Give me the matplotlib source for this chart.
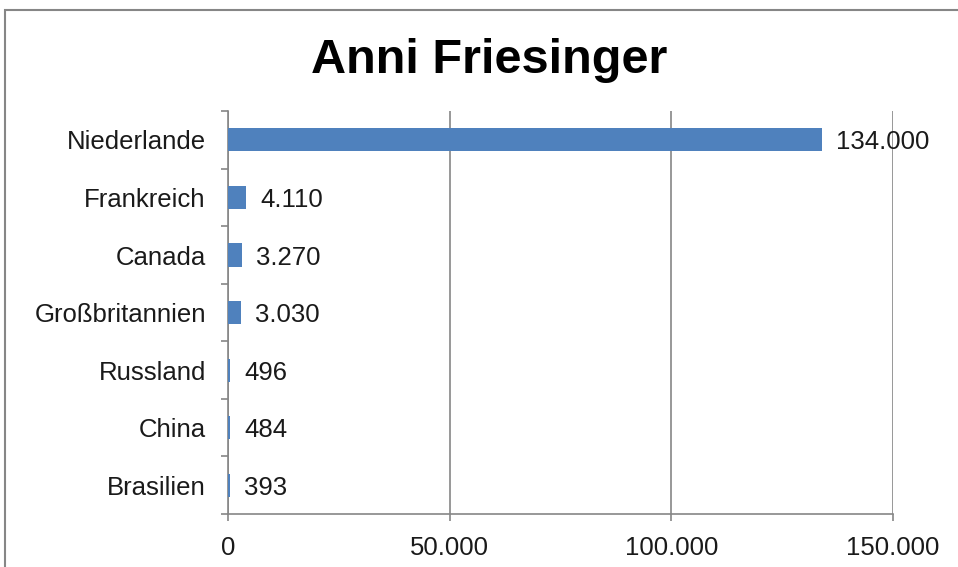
import matplotlib.pyplot as plt
from matplotlib.patches import Rectangle
from matplotlib.ticker import FixedLocator, FuncFormatter

countries = ["Niederlande", "Frankreich", "Canada", "Großbritannien",
             "Russland", "China", "Brasilien"]
values = [134000, 4110, 3270, 3030, 496, 484, 393]
x_ticks = [0, 50000, 100000, 150000]


def de_num(v, _pos=None):
    return f"{int(v):,}".replace(",", ".")


def main() -> None:
    plt.rcParams["font.family"] = ["Liberation Sans", "DejaVu Sans"]
    fig = plt.figure(figsize=(9.58, 5.67), dpi=100)
    ax = fig.add_axes([0.238, 0.0935, 0.694, 0.7105])

    # outer chart border (cut off on right and bottom)
    fig.patches.append(Rectangle((0.005, -0.1), 1.2, 1.1 - 10 / 567,
                                 transform=fig.transFigure, fill=False,
                                 edgecolor="#868686", linewidth=1.5))

    pos = list(range(len(countries)))
    ax.barh(pos, values, height=0.4, color="#4F81BD", zorder=3)
    for p, v in zip(pos, values):
        ax.annotate(de_num(v), (v, p), xytext=(10, 0), textcoords="offset points",
                    va="center_baseline", ha="left", fontsize=18.5, color="#1a1a1a")

    ax.set_xlim(0, 150000)
    ax.set_ylim(len(countries) - 0.5, -0.5)
    ax.set_xticks(x_ticks)
    ax.xaxis.set_major_formatter(FuncFormatter(de_num))
    ax.set_yticks(pos)
    ax.set_yticklabels(countries)
    ax.yaxis.set_minor_locator(FixedLocator([p - 0.5 for p in pos] + [len(pos) - 0.5]))

    ax.grid(axis="x", color="#868686", linewidth=1.2, zorder=0)
    for side in ("top", "right"):
        ax.spines[side].set_visible(False)
    for side in ("left", "bottom"):
        ax.spines[side].set_color("#868686")
        ax.spines[side].set_linewidth(1.2)

    ax.tick_params(axis="x", length=5, color="#868686", width=1.2, pad=11,
                   labelsize=18.5, labelcolor="#1a1a1a")
    ax.tick_params(axis="y", which="major", length=0, pad=16,
                   labelsize=18.5, labelcolor="#1a1a1a")
    ax.tick_params(axis="y", which="minor", length=5, color="#868686", width=1.2)

    fig.text(0.511, 1 - 73 / 567, "Anni Friesinger", ha="center", va="baseline",
             fontsize=35, fontweight="bold")

    fig.savefig("out.png", dpi=100)
    plt.close(fig)


if __name__ == "__main__":
    main()
